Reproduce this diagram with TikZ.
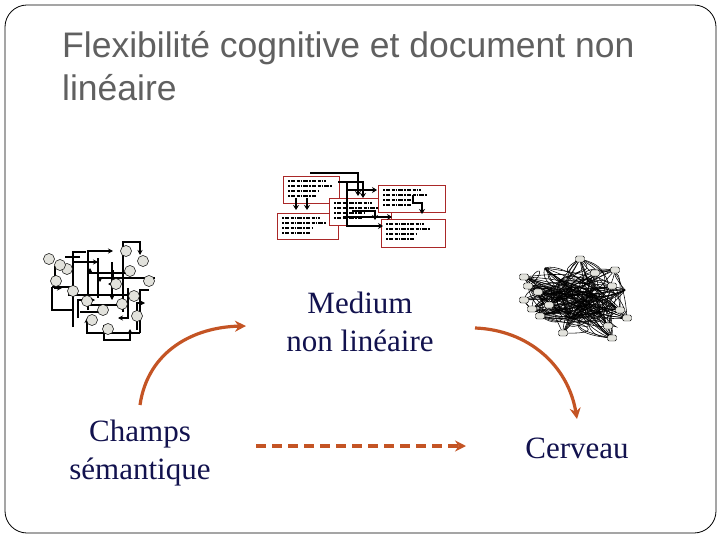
\documentclass[tikz,border=0pt]{standalone}
\usepackage{fontspec}
\setmainfont{Liberation Serif}
\newfontfamily\titlefont{Liberation Sans}
\usetikzlibrary{arrows.meta}
\definecolor{titlegray}{RGB}{96,96,96}
\definecolor{navy}{RGB}{18,18,78}
\definecolor{rust}{RGB}{196,84,36}
\definecolor{boxred}{RGB}{170,40,40}
\definecolor{nodegray}{RGB}{226,226,220}
\tikzset{
  frame/.style={draw=black, line width=0.8pt, rounded corners=22pt},
  titletext/.style={anchor=base west, inner sep=0pt, text=titlegray, font=\titlefont\fontsize{35.5}{40}\selectfont},
  label/.style={align=center, inner sep=0pt, text=navy, font=\fontsize{31}{38}\selectfont},
  rustarrow/.style={draw=rust, line width=3.2pt, -{Stealth[length=11pt,width=11pt]}},
  gcirc/.style={circle, draw=black, fill=nodegray, line width=0.5pt, minimum size=11pt, inner sep=0pt},
  gline/.style={draw=black, line width=1.8pt},
  garrow/.style={gline, -{Stealth[length=5pt,width=5pt]}},
  docbox/.style={draw=boxred, fill=white, line width=0.9pt, anchor=north west, inner sep=0pt},
  faketext/.style={draw=black, line width=1.4pt, dash pattern=on 2pt off 1pt on 4pt off 1.5pt on 3pt off 1pt on 1pt off 1.5pt on 5pt off 1pt},
  darrow/.style={draw=black, line width=2pt, -{Stealth[length=5pt,width=6pt]}},
  tnode/.style={draw=black, fill=nodegray, line width=0.4pt, rounded corners=1.5pt, minimum width=9pt, minimum height=6pt, inner sep=0pt},
  tline/.style={draw=black, line width=0.55pt}
}
\begin{document}
\begin{tikzpicture}[x=1pt,y=-1pt]
\useasboundingbox (0,0) rectangle (720,540);
\draw[frame] (5,5) rectangle (716,533);

% title
\node[titletext] (t1) at (62,58) {Flexibilité cognitive et document non};
\node[titletext] (t2) at (62,101) {linéaire};

% labels
\node[label] (medium) at (360,322) {Medium\\non linéaire};
\node[label] (champs) at (140,453) {Champs\\sémantique};
\node[label] (cerveau) at (577,448) {Cerveau};

% rust arrows
\coordinate (a1s) at (140,405);
\coordinate (a1e) at (246,326);
\coordinate (a2s) at (475,328);
\coordinate (a2e) at (577,419);
\coordinate (a3s) at (256,446);
\coordinate (a3e) at (466,446);
\draw[rustarrow] (a1s) .. controls (148,350) and (195,327) .. (a1e);
\draw[rustarrow] (a2s) .. controls (528,330) and (568,365) .. (a2e);
\draw[rustarrow, dash pattern=on 10pt off 6pt] (a3s) -- (a3e);

% ---------- left graph (semantic field) ----------
\draw[gline] (73,327) -- (73,252) -- (86,252);
\draw[garrow] (88,310) -- (88,251) -- (113,251);
\draw[garrow] (123,312) -- (123,242) -- (140,242) -- (140,255);
\draw[gline] (52,287) -- (70,287);
\draw[gline] (52,287) -- (52,310) -- (73,310);
\draw[gline] (68,295) -- (133,295);
\draw[gline] (90,305) -- (117,305);
\draw[garrow] (140,333) -- (87,333) -- (87,318);
\draw[gline] (140,333) -- (140,290) -- (149,290);
\draw[garrow] (130,273) -- (90,273) -- (90,268);
\draw[garrow] (155,278) -- (100,278) -- (100,282);
\draw[garrow] (73,262) -- (98,262);
\draw[gline] (98,258) -- (98,298);
\draw[garrow] (112,262) -- (112,300);
\draw[garrow] (78,318) -- (78,300) -- (95,300);
\draw[garrow] (128,288) -- (128,318) -- (118,318);
\draw[gline] (65,257) -- (80,257);
\draw[garrow] (104,325) -- (104,340) -- (130,340) -- (130,329);
\draw[garrow] (137,330) -- (137,303) -- (145,303);
\draw[garrow] (55,266) -- (55,288) -- (62,288);
\draw[gline] (80,312) -- (103,312);
\draw[garrow] (113,270) -- (113,284) -- (108,284);

\foreach \n/\x/\y in {1/126/251, 2/143/261, 3/49/259, 4/67/269, 5/130/271,
  6/149/281, 7/56/281, 8/116/284, 9/73/291, 10/134/296, 11/87/301,
  12/122/304, 13/103/310, 14/137/316, 15/92/320, 16/108/329, 17/60/265}
  \node[gcirc] (g\n) at (\x,\y) {};

% ---------- middle: linked documents ----------
\foreach \n/\x/\y/\w/\h in {1/283/176/56/27, 2/277/213/61/26, 3/329/198/62/27,
  4/378/185/67/27, 5/381/219/64/28} {
  \node[docbox, minimum width=\w pt, minimum height=\h pt] (d\n) at (\x,\y) {};
  \draw[faketext] ([shift={(5,5)}]d\n.north west) -- ++(38,0);
  \draw[faketext] ([shift={(5,10)}]d\n.north west) -- ++(44,0);
  \draw[faketext] ([shift={(5,15)}]d\n.north west) -- ++(30,0);
  \draw[faketext] ([shift={(5,20)}]d\n.north west) -- ++(28,0);
}
\draw[darrow] (310,173) -- (358,173) -- (358,196);
\draw[darrow] (338,182) -- (363,182) -- (363,198);
\draw[darrow] (347,182) -- (347,190) -- (377,190);
\draw[darrow] (347,190) -- (347,226) -- (383,226);
\draw[darrow] (296,198) -- (296,210);
\draw[darrow] (307,198) -- (307,210);
\draw[darrow] (413,195) -- (413,203) -- (422,203) -- (422,214);
\draw[darrow] (343,217) -- (392,217);
\draw[darrow] (352,211) -- (375,211) -- (375,220);

% ---------- right: brain tangle ----------
\foreach \n/\x/\y in {1/524/277, 2/538/292, 3/524/300, 4/540/316, 5/580/259,
  6/595/273, 7/612/286, 8/620/310, 9/627/318, 10/563/333, 11/612/338,
  12/608/326, 13/549/305, 14/532/309, 15/560/280, 16/590/295, 17/570/318,
  18/600/312, 19/545/268, 20/625/290, 21/528/286, 22/615/270}
  \coordinate (tc\n) at (\x,\y);
\pgfmathsetseed{17}
\foreach \k in {1,...,140} {
  \pgfmathsetmacro\na{int(1+floor(rnd*21.999))}
  \pgfmathsetmacro\nb{int(1+floor(rnd*21.999))}
  \pgfmathsetmacro\pa{580+48*rand}
  \pgfmathsetmacro\pb{298+38*rand}
  \pgfmathsetmacro\pc{580+48*rand}
  \pgfmathsetmacro\pd{298+38*rand}
  \draw[tline] (tc\na) .. controls (\pa,\pb) and (\pc,\pd) .. (tc\nb);
}
\foreach \n in {1,...,14,21,22}
  \node[tnode] (tn\n) at (tc\n) {};
\end{tikzpicture}
\end{document}
